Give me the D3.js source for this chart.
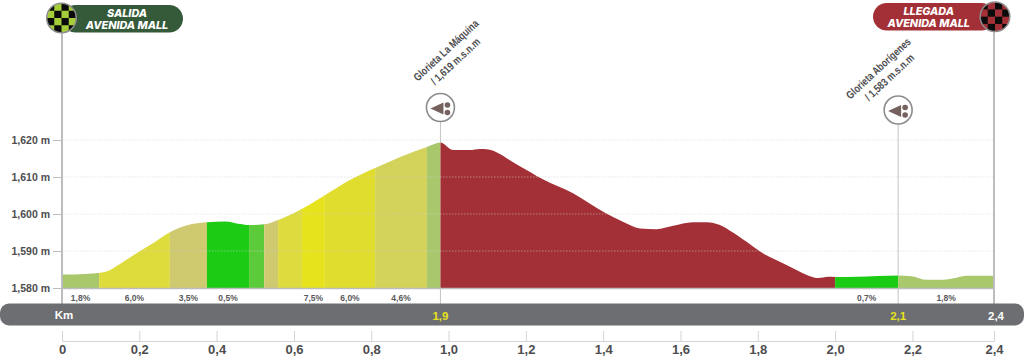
<!DOCTYPE html>
<html>
<head>
<meta charset="utf-8">
<script src="https://cdn.jsdelivr.net/npm/d3@7"></script>
<style>
  html, body { margin: 0; padding: 0; background: #fff; }
  svg { display: block; }
  text { font-family: "Liberation Sans", Arial, sans-serif; }
</style>
</head>
<body>
<svg id="profile"></svg>
<script>
// ============================================================
// Data
// ============================================================
const profileKm = [0, 0.06, 0.096, 0.111, 0.15, 0.202, 0.228, 0.279, 0.336, 0.375, 0.422, 0.461,
  0.484, 0.523, 0.559, 0.585, 0.621, 0.68, 0.745, 0.81, 0.875, 0.944, 0.979, 1.011, 1.055, 1.081,
  1.099, 1.18, 1.244, 1.322, 1.4, 1.451, 1.495, 1.538, 1.581, 1.632, 1.668, 1.702, 1.728, 1.771,
  1.813, 1.865, 1.909, 1.939, 1.956, 1.982, 2.0, 2.056, 2.163, 2.198, 2.237, 2.271, 2.314, 2.34, 2.411];
const profileElevation = [1583.65, 1583.8, 1584.05, 1584.3, 1586.5, 1590, 1591.6, 1595.1, 1597.3,
  1597.8, 1598, 1597.3, 1597, 1597.2, 1598.4, 1599.5, 1601.4, 1605.1, 1609.2, 1612.4, 1615.4,
  1618.1, 1619.3, 1617.3, 1617.3, 1617.6, 1617.5, 1613.2, 1609.4, 1605.6, 1600.6, 1597.9, 1596.1,
  1595.9, 1596.8, 1597.8, 1597.8, 1597, 1595.5, 1592.5, 1589.4, 1586.7, 1584.4, 1583.05, 1582.7,
  1583.05, 1583, 1583.05, 1583.4, 1583.2, 1582.2, 1582.2, 1582.8, 1583.3, 1583.3];

const segmentStarts = [0, 0.096, 0.279, 0.375, 0.484, 0.523, 0.559, 0.621, 0.68, 0.81, 0.944, 0.979, 2.0, 2.163];
const segmentEnds = [0.096, 0.279, 0.375, 0.484, 0.523, 0.559, 0.621, 0.68, 0.81, 0.944, 0.979, 2.0, 2.163, 2.411];
const segmentLabels = ["1,8%", "6,0%", "3,5%", "0,5%", "", "", "", "7,5%", "6,0%", "4,6%", "", "", "0,7%", "1,8%"];

const elevationTicks = [1580, 1590, 1600, 1610, 1620];
const kmTicks = [0, 0.2, 0.4, 0.6, 0.8, 1.0, 1.2, 1.4, 1.6, 1.8, 2.0, 2.2, 2.411];
const kmTickLabels = ["0", "0,2", "0,4", "0,6", "0,8", "1,0", "1,2", "1,4", "1,6", "1,8", "2,0", "2,2", "2,4"];

const passKm = [0.979, 2.163];
const passNames = ["Glorieta La Máquina", "Glorieta Aborígenes"];
const passHeights = ["/ 1,619 m.s.n.m", "/ 1,583 m.s.n.m"];
const barKm = [0.979, 2.163, 2.411];
const barLabels = ["1,9", "2,1", "2,4"];

// ============================================================
// Styles
// ============================================================
const segmentColors = ["#a9c86c", "#dedb3c", "#cfc96f", "#1ccc14", "#5ccb3a", "#cfc96f", "#dddb3e",
  "#e6e31c", "#e0dd2f", "#d3d25a", "#a9c86c", "#a33036", "#1ccc14", "#a9c86c"];

const svgWidth = 1024;
const svgHeight = 358;
const plotLeft = 62;
const plotRight = 994;
const plotBase = 288;
const plotTop = 140;

const svg = d3.select("#profile").attr("width", svgWidth).attr("height", svgHeight);

const xScale = d3.scaleLinear().domain([0, 2.411]).range([plotLeft, plotRight]);
const yScale = d3.scaleLinear().domain([1580, 1620]).range([plotBase, plotTop]);
const profile = profileKm.map((km, i) => [km, profileElevation[i]]);

// ============================================================
// Profile: coloured bands clipped by the elevation area
// ============================================================
const area = d3.area()
  .x(d => xScale(d[0]))
  .y0(plotBase)
  .y1(d => yScale(d[1]))
  .curve(d3.curveMonotoneX);

svg.append("clipPath").attr("id", "profileClip")
  .append("path").attr("d", area(profile));

svg.append("g").attr("clip-path", "url(#profileClip)")
  .selectAll("rect")
  .data(segmentStarts)
  .join("rect")
  .attr("x", d => xScale(d))
  .attr("y", 100)
  .attr("width", (d, i) => xScale(segmentEnds[i]) - xScale(d))
  .attr("height", plotBase - 100)
  .attr("fill", (d, i) => segmentColors[i]);

// dotted grid, faint over the profile
svg.append("g").selectAll("line")
  .data(elevationTicks.slice(1))
  .join("line")
  .attr("x1", plotLeft)
  .attr("x2", plotRight)
  .attr("y1", d => yScale(d))
  .attr("y2", d => yScale(d))
  .attr("stroke", "#cfcfcf")
  .attr("stroke-opacity", 0.5)
  .attr("stroke-dasharray", "1.5,1.5");

// ============================================================
// Vertical guides and baseline
// ============================================================
svg.append("line").attr("x1", xScale(0)).attr("x2", xScale(0)).attr("y1", 30).attr("y2", 304)
  .attr("stroke", "#bdbdbf").attr("stroke-width", 2);
svg.append("line").attr("x1", xScale(2.411)).attr("x2", xScale(2.411)).attr("y1", 28).attr("y2", 304)
  .attr("stroke", "#bdbdbf").attr("stroke-width", 2);
svg.append("line").attr("x1", plotLeft).attr("x2", plotRight).attr("y1", plotBase + 0.5).attr("y2", plotBase + 0.5)
  .attr("stroke", "#bdbdbf").attr("stroke-width", 1.5);

svg.append("g").selectAll("line")
  .data(passKm)
  .join("line")
  .attr("x1", d => xScale(d))
  .attr("x2", d => xScale(d))
  .attr("y1", (d, i) => yScale(profileElevation[profileKm.indexOf(d)]))
  .attr("y2", 120)
  .attr("stroke", "#c4c4c6");
svg.append("g").selectAll("line")
  .data(passKm)
  .join("line")
  .attr("x1", d => xScale(d))
  .attr("x2", d => xScale(d))
  .attr("y1", plotBase)
  .attr("y2", 304)
  .attr("stroke", "#c4c4c6");

// ============================================================
// Elevation axis
// ============================================================
const yAxis = svg.append("g")
  .attr("transform", `translate(${plotLeft}, 0)`)
  .call(d3.axisLeft(yScale)
    .tickValues(elevationTicks)
    .tickSize(9)
    .tickPadding(3)
    .tickFormat(d => d3.format(",")(d) + " m"));
yAxis.select(".domain").remove();
yAxis.selectAll("line").attr("stroke", "#bdbdbf");
yAxis.selectAll("text")
  .style("font-size", "10.5px")
  .style("font-weight", "bold")
  .attr("fill", "#4d4d4f");

// ============================================================
// Gradient labels
// ============================================================
svg.append("g").selectAll("text")
  .data(segmentLabels)
  .join("text")
  .attr("x", (d, i) => (xScale(segmentStarts[i]) + xScale(segmentEnds[i])) / 2)
  .attr("y", 300.5)
  .attr("text-anchor", "middle")
  .style("font-size", "8.5px")
  .style("font-weight", "bold")
  .attr("fill", "#58595b")
  .text(d => d);

// ============================================================
// Grey km bar
// ============================================================
svg.append("rect")
  .attr("x", 0).attr("y", 303.5)
  .attr("width", svgWidth).attr("height", 22)
  .attr("rx", 9)
  .attr("fill", "#6d6e71");
svg.append("text")
  .attr("x", 64).attr("y", 318.5)
  .attr("text-anchor", "middle")
  .style("font-size", "11.5px")
  .style("font-weight", "bold")
  .attr("fill", "#fff")
  .text("Km");
svg.append("g").selectAll("text")
  .data(barLabels)
  .join("text")
  .attr("x", (d, i) => xScale(barKm[i]) + (i == 2 ? 2 : 0))
  .attr("y", 320)
  .attr("text-anchor", "middle")
  .style("font-size", "11.5px")
  .style("font-weight", "bold")
  .attr("fill", (d, i) => i == 2 ? "#ffffff" : "#e6e31c")
  .text(d => d);

// ============================================================
// Km axis
// ============================================================
const xAxis = svg.append("g")
  .attr("transform", "translate(0, 341)")
  .call(d3.axisBottom(xScale)
    .tickValues(kmTicks)
    .tickSize(-10)
    .tickPadding(4)
    .tickFormat((d, i) => kmTickLabels[i]));
xAxis.select(".domain").attr("stroke", "#d4d4d6");
xAxis.selectAll("line").attr("stroke", "#d4d4d6");
xAxis.selectAll("text")
  .style("font-size", "13px")
  .style("font-weight", "bold")
  .attr("fill", "#4d4d4f");

// ============================================================
// Pass icons and rotated names
// ============================================================
const iconY = [107.5, 110];
const nameAt = [[446.5, 51], [879, 69]];
const heightAt = [[456, 62], [890, 78]];

passKm.forEach((km, i) => {
  let icon = svg.append("g").attr("transform", `translate(${xScale(km)}, ${iconY[i]})`);
  icon.append("circle").attr("r", 14).attr("fill", "#fff").attr("stroke", "#8c8c8e").attr("stroke-width", 1.6);
  icon.append("path").attr("d", "M-10,1 L3,-5 L3,7 Z").attr("fill", "#75625f");
  icon.append("circle").attr("cx", 7).attr("cy", -2.5).attr("r", 2.8).attr("fill", "#75625f");
  icon.append("circle").attr("cx", 7).attr("cy", 5).attr("r", 2.8).attr("fill", "#75625f");

  // no condensed face installed, so squeeze the bold one
  [[passNames[i], nameAt[i]], [passHeights[i], heightAt[i]]].forEach(([label, at]) => {
    svg.append("text")
      .attr("transform", `translate(${at[0]}, ${at[1]}) rotate(-43) scale(0.8, 1)`)
      .attr("text-anchor", "middle")
      .attr("dominant-baseline", "middle")
      .style("font-size", "11px")
      .style("font-weight", "bold")
      .attr("fill", "#4d4d4f")
      .text(label);
  });
});

// ============================================================
// Start and finish flags
// ============================================================
function drawFlag(cx, cy, pillX, pillWidth, pillY, pillColor, checkColor, textX, lines, clipId)
{
  svg.append("rect")
    .attr("x", pillX).attr("y", pillY)
    .attr("width", pillWidth).attr("height", 27.5)
    .attr("rx", 13.75)
    .attr("fill", pillColor);

  lines.forEach((line, i) => {
    svg.append("text")
      .attr("x", textX)
      .attr("y", pillY + 12.3 + i * 11.4)
      .attr("text-anchor", "middle")
      .style("font-family", "Inter, sans-serif")
      .style("font-size", "10.8px")
      .style("font-weight", "800")
      .style("font-style", "italic")
      .attr("fill", "#fff")
      .text(line);
  });

  svg.append("clipPath").attr("id", clipId)
    .append("circle").attr("cx", cx).attr("cy", cy).attr("r", 14.5);
  svg.append("circle").attr("cx", cx).attr("cy", cy).attr("r", 14.5).attr("fill", checkColor);

  let cell = 7.25;
  let cells = d3.cross(d3.range(4), d3.range(4)).filter(d => (d[0] + d[1]) % 2 == 0);
  svg.append("g").attr("clip-path", `url(#${clipId})`)
    .selectAll("rect")
    .data(cells)
    .join("rect")
    .attr("x", d => cx - 2 * cell + d[0] * cell)
    .attr("y", d => cy - 2 * cell + d[1] * cell)
    .attr("width", cell)
    .attr("height", cell)
    .attr("fill", "#0b0b0b");
  svg.append("circle").attr("cx", cx).attr("cy", cy).attr("r", 14.8)
    .attr("fill", "none").attr("stroke", "#8c8c8e").attr("stroke-width", 1.5);
}

drawFlag(61.5, 18, 62, 121, 5, "#355a39", "#a6ce39", 127, ["SALIDA", "AVENIDA MALL"], "startClip");
drawFlag(995, 16.7, 873, 122, 3, "#a33036", "#a33036", 928.7, ["LLEGADA", "AVENIDA MALL"], "finishClip");
</script>
</body>
</html>
